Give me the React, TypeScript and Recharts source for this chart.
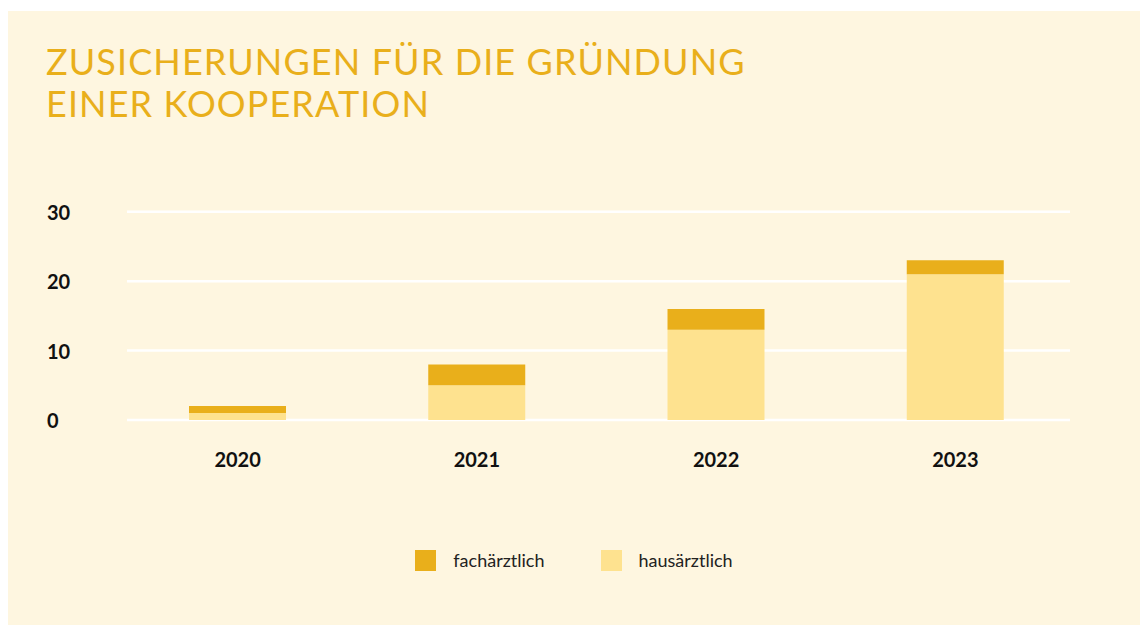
import React from "react";
import { BarChart, Bar, XAxis, YAxis, CartesianGrid } from "recharts";

const years = ["2020", "2021", "2022", "2023"];
const hausaerztlich = [1, 5, 13, 21];
const fachaerztlich = [1, 3, 3, 2];
const yTicks = [0, 10, 20, 30];

const seriesInfo = [
  { key: "fach", name: "fachärztlich", color: "#E9AF1B" },
  { key: "haus", name: "hausärztlich", color: "#FEE28F" },
];

const data = years.map((y, i) => ({
  year: y,
  haus: hausaerztlich[i],
  fach: fachaerztlich[i],
}));

const BG = "#FEF6E0";
const FONT = "Lato, 'Open Sans', sans-serif";

const YTick = (props: any) => {
  const { y, payload } = props;
  return (
    <text x={39} y={y} dy={8} textAnchor="start" fontFamily={FONT} fontWeight={700} fontSize={20} fill="#111">
      {payload.value}
    </text>
  );
};

const XTick = (props: any) => {
  const { x, y, payload } = props;
  return (
    <text x={x} y={y} dy={47} textAnchor="middle" fontFamily={FONT} fontWeight={700} fontSize={20} fill="#111">
      {payload.value}
    </text>
  );
};

const gridLine = (props: any) => {
  const { x1, x2, y1, y2, key } = props;
  return <line key={key} x1={x1 + 9} x2={x2 - 5} y1={y1} y2={y2} stroke="#FFFFFF" strokeWidth={2.5} />;
};

export default function App() {
  return (
    <div>
      <style>{`body{margin:0;overflow:hidden;}`}</style>
      <div
        style={{
          position: "absolute",
          left: 8,
          top: 11,
          width: 1132,
          height: 614,
          background: BG,
          fontFamily: FONT,
        }}
      >
        <div
          style={{
            position: "absolute",
            left: 38,
            top: 29,
            color: "#E9AF1B",
            fontSize: 36,
            lineHeight: "42px",
            fontWeight: 400,
            letterSpacing: 1.1,
            whiteSpace: "nowrap",
          }}
        >
          ZUSICHERUNGEN FÜR DIE GRÜNDUNG
          <br />
          EINER KOOPERATION
        </div>
        <div style={{ position: "absolute", left: 0, top: 0 }}>
          <BarChart
            width={1132}
            height={614}
            data={data}
            margin={{ top: 200.7, right: 65, bottom: 145, left: 50 }}
            barSize={97}
          >
            <CartesianGrid horizontal={gridLine} vertical={false} />
            <XAxis
              dataKey="year"
              axisLine={false}
              tickLine={false}
              tickSize={0}
              tickMargin={0}
              height={60}
              tick={<XTick />}
              interval={0}
            />
            <YAxis
              domain={[0, 30]}
              ticks={yTicks}
              axisLine={false}
              tickLine={false}
              width={60}
              tick={<YTick />}
              interval={0}
            />
            <Bar dataKey="haus" name="hausärztlich" stackId="a" fill="#FEE28F" isAnimationActive={false} />
            <Bar dataKey="fach" name="fachärztlich" stackId="a" fill="#E9AF1B" isAnimationActive={false} />
          </BarChart>
        </div>
        <div
          style={{
            position: "absolute",
            left: 0,
            top: 538,
            width: 1132,
            display: "flex",
            justifyContent: "center",
            alignItems: "center",
            gap: 56,
          }}
        >
          {seriesInfo.map((s) => (
            <div key={s.key} style={{ display: "flex", alignItems: "center" }}>
              <div style={{ width: 21, height: 21, background: s.color, marginRight: 17 }} />
              <span style={{ fontSize: 18, color: "#222" }}>{s.name}</span>
            </div>
          ))}
        </div>
      </div>
    </div>
  );
}
